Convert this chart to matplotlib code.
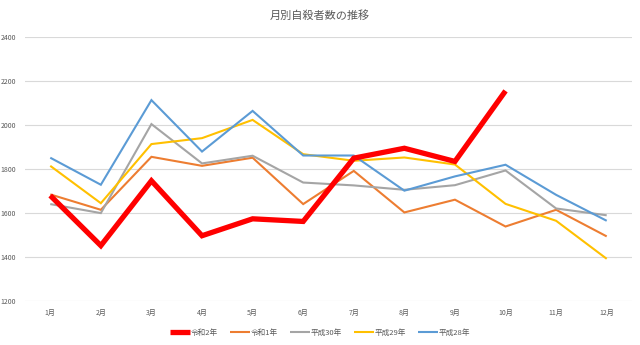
import matplotlib.pyplot as plt

plt.rcParams['font.family'] = ['Noto Sans CJK JP', 'DejaVu Sans']

months = ['1月', '2月', '3月', '4月', '5月', '6月', '7月', '8月', '9月', '10月', '11月', '12月']

r2 = [1680, 1452, 1747, 1497, 1574, 1562, 1850, 1895, 1835, 2156]
r1 = [1685, 1615, 1856, 1815, 1852, 1641, 1792, 1603, 1661, 1539, 1615, 1494]
h30 = [1641, 1600, 2005, 1826, 1861, 1739, 1726, 1706, 1727, 1794, 1621, 1590]
h29 = [1815, 1645, 1914, 1941, 2024, 1868, 1838, 1853, 1821, 1642, 1565, 1392]
h28 = [1852, 1729, 2114, 1880, 2065, 1862, 1862, 1702, 1767, 1820, 1683, 1565]

series = [
    ('令和2年', r2, '#FF0000', 3.8, 5),
    ('令和1年', r1, '#ED7D31', 1.5, 2),
    ('平成30年', h30, '#A5A5A5', 1.5, 2),
    ('平成29年', h29, '#FFC000', 1.5, 2),
    ('平成28年', h28, '#5B9BD5', 1.5, 2),
]

fig = plt.figure(figsize=(6.4, 3.45), dpi=100)
ax = fig.add_axes([0.039, 0.1275, 0.9485, 0.7645])

for name, vals, color, lw, z in series:
    ax.plot(range(len(vals)), vals, color=color, linewidth=lw, label=name,
            zorder=z, solid_capstyle='butt', solid_joinstyle='miter')

ax.set_xlim(-0.5, 11.5)
ax.set_ylim(1200, 2400)
ax.set_yticks(range(1200, 2401, 200))
ax.set_xticks(range(12))
ax.set_xticklabels(months)
ax.tick_params(length=0, labelsize=5, colors='#595959')
ax.tick_params(axis='y', pad=6.5)
ax.tick_params(axis='x', pad=6)
ax.grid(axis='y', color='#D9D9D9', linewidth=0.8)
ax.set_axisbelow(True)
for s in ax.spines.values():
    s.set_visible(False)

fig.suptitle('月別自殺者数の推移', y=0.97, fontsize=8, color='#595959')
fig.legend(loc='center', bbox_to_anchor=(0.5, 0.035), ncol=5, frameon=False,
           fontsize=5.5, labelcolor='#595959', handlelength=2.6, handletextpad=0.1,
           columnspacing=1.6)

fig.savefig('out.png', dpi=100)
